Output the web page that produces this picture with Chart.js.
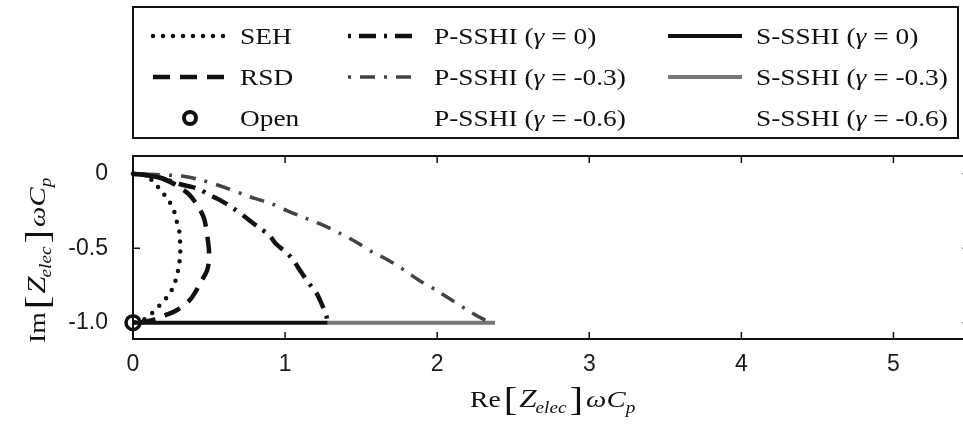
<!DOCTYPE html>
<html lang="en">
<head>
<meta charset="UTF-8">
<title>Im vs Re of Z_elec</title>
<script src="https://cdn.jsdelivr.net/npm/chart.js"></script>
<style>
  html, body { margin: 0; padding: 0; overflow: hidden; background: #fff; }
  #wrap { width: 980px; height: 435px; }
</style>
</head>
<body>
<div id="wrap"><canvas id="impChart"></canvas></div>
<script>
// [Re, Im] pairs (normalised by w*Cp)
const sehPts = [[0, 0], [0.05, -0.003], [0.09, -0.012], [0.14, -0.06], [0.19, -0.12], [0.235, -0.18], [0.27, -0.25],
  [0.29, -0.33], [0.305, -0.39], [0.31, -0.47], [0.31, -0.55], [0.30, -0.63], [0.285, -0.70], [0.26, -0.77],
  [0.23, -0.82], [0.17, -0.89], [0.11, -0.95], [0.06, -0.985], [0, -1]];
const rsdPts = [[0, 0], [0.1, -0.01], [0.2, -0.035], [0.28, -0.075], [0.37, -0.14], [0.44, -0.24], [0.47, -0.31],
  [0.49, -0.43], [0.50, -0.53], [0.49, -0.64], [0.45, -0.72], [0.38, -0.84], [0.29, -0.915], [0.20, -0.955],
  [0.12, -0.985], [0.03, -1]];
const pSshi0Pts = [[0, 0], [0.15, -0.02], [0.28, -0.06], [0.33, -0.075], [0.43, -0.10], [0.50, -0.14], [0.56, -0.17],
  [0.65, -0.225], [0.75, -0.30], [0.84, -0.37], [0.895, -0.41], [0.94, -0.47], [1.02, -0.54], [1.06, -0.59],
  [1.105, -0.66], [1.16, -0.74], [1.20, -0.79], [1.23, -0.85], [1.27, -0.95], [1.28, -1.0]];
const pSshi03Pts = [[0, 0], [0.15, -0.005], [0.26, -0.01], [0.35, -0.02], [0.46, -0.045], [0.57, -0.08], [0.73, -0.14],
  [0.80, -0.165], [0.91, -0.20], [1.02, -0.25], [1.14, -0.30], [1.26, -0.35], [1.36, -0.40], [1.47, -0.46],
  [1.58, -0.53], [1.67, -0.575], [1.78, -0.645], [1.88, -0.715], [1.99, -0.78], [2.09, -0.845], [2.19, -0.91],
  [2.30, -0.975], [2.36, -1.0]];
const pSshi06Pts = [];
const sSshi0Pts = [[0, 0], [0.1, -0.008], [0.2, -0.03], [0.28, -0.07], [0.29, null], [0, -1], [1.28, -1]];
const sSshi03Pts = [[1.28, -1], [2.38, -1]];
const sSshi06Pts = [];
const openPts = [[0, -1]];

const xTicks = [0, 1, 2, 3, 4, 5];
const yTicks = [-1.0, -0.5, 0];
const yTickLabels = ['-1.0', '-0.5', '0'];

const seriesNames = ['Open', 'SEH', 'RSD', 'P-SSHI (γ = 0)', 'P-SSHI (γ = -0.3)', 'P-SSHI (γ = -0.6)',
  'S-SSHI (γ = 0)', 'S-SSHI (γ = -0.3)', 'S-SSHI (γ = -0.6)'];

const SERIF = '"Liberation Serif", "Times New Roman", serif';
const SANS = '"Liberation Sans", Arial, sans-serif';

function toXY(pts) {
  return pts.map(p => ({ x: p[0], y: p[1] }));
}

function lineSet(label, pts, color, width, dash, cap) {
  return {
    label: label, data: toXY(pts), borderColor: color, borderWidth: width,
    borderDash: dash, borderCapStyle: cap || 'butt', pointRadius: 0,
    tension: 0.3, fill: false, clip: false, spanGaps: false, order: 1
  };
}

const datasets = [
  { label: seriesNames[0], data: toXY(openPts), showLine: false, pointRadius: 7, pointBorderWidth: 3.5,
    pointBorderColor: '#111', pointBackgroundColor: 'rgba(0,0,0,0)', clip: false, order: 0 },
  lineSet(seriesNames[1], sehPts, '#111', 4.5, [0, 10], 'round'),
  lineSet(seriesNames[2], rsdPts, '#111', 4.5, [17, 10]),
  lineSet(seriesNames[3], pSshi0Pts, '#111', 4.5, [3, 8, 17, 8]),
  lineSet(seriesNames[4], pSshi03Pts, '#444', 3.5, [3, 9, 15, 9]),
  lineSet(seriesNames[5], pSshi06Pts, '#333', 3.5, [3, 9, 15, 9]),
  lineSet(seriesNames[6], sSshi0Pts, '#111', 4, []),
  lineSet(seriesNames[7], sSshi03Pts, '#777', 4, []),
  lineSet(seriesNames[8], sSshi06Pts, '#999', 4, [])
];

// legend slots: dataset index -> column/row, sample drawn only if sample is true
const legendSlots = [
  { ds: 1, col: 0, row: 0, sample: true }, { ds: 2, col: 0, row: 1, sample: true }, { ds: 0, col: 0, row: 2, sample: true },
  { ds: 3, col: 1, row: 0, sample: true }, { ds: 4, col: 1, row: 1, sample: true }, { ds: 5, col: 1, row: 2, sample: false },
  { ds: 6, col: 2, row: 0, sample: true }, { ds: 7, col: 2, row: 1, sample: true }, { ds: 8, col: 2, row: 2, sample: false }
];
const legendCols = [{ x0: 153, x1: 224, tx: 240 }, { x0: 348, x1: 414, tx: 434 }, { x0: 668, x1: 742, tx: 756 }];
const legendRows = [36, 77, 118];

// draw a list of text runs left to right, stretched horizontally by sx
function drawRuns(ctx, runs, x, y, sx) {
  let cx = x;
  runs.forEach(r => {
    ctx.font = r.font;
    ctx.save();
    ctx.translate(cx, y + (r.dy || 0));
    ctx.scale(sx, 1);
    ctx.fillText(r.t, 0, 0);
    ctx.restore();
    cx += ctx.measureText(r.t).width * sx + (r.gap || 0);
  });
}

function mathRuns(head) {
  return [
    { t: head, font: '23px ' + SERIF, gap: 3 },
    { t: '[', font: '34px ' + SERIF, dy: 3, gap: 2 },
    { t: 'Z', font: 'italic 26px ' + SERIF, gap: -1 },
    { t: 'elec', font: 'italic 16px ' + SERIF, dy: 6, gap: 3 },
    { t: ']', font: '34px ' + SERIF, dy: 3, gap: 3 },
    { t: 'ω', font: 'italic 24px ' + SERIF },
    { t: 'C', font: 'italic 24px ' + SERIF },
    { t: 'p', font: 'italic 16px ' + SERIF, dy: 6 }
  ];
}

const decorPlugin = {
  id: 'decor',
  beforeDatasetsDraw(chart) {
    const ctx = chart.ctx, a = chart.chartArea;
    const xs = chart.scales.x, ys = chart.scales.y;
    ctx.save();
    ctx.strokeStyle = '#111';
    ctx.lineWidth = 2;
    ctx.strokeRect(a.left, a.top, a.right - a.left, a.bottom - a.top);
    ctx.lineWidth = 1.5;
    ctx.beginPath();
    xTicks.forEach(v => {
      const px = xs.getPixelForValue(v);
      ctx.moveTo(px, a.bottom); ctx.lineTo(px, a.bottom - 7);
      ctx.moveTo(px, a.top); ctx.lineTo(px, a.top + 7);
    });
    yTicks.forEach(v => {
      const py = ys.getPixelForValue(v);
      ctx.moveTo(a.left, py); ctx.lineTo(a.left + 7, py);
      ctx.moveTo(a.right, py); ctx.lineTo(a.right - 7, py);
    });
    ctx.stroke();
    ctx.restore();
  },
  afterDraw(chart) {
    const ctx = chart.ctx;
    ctx.save();
    // legend box
    ctx.strokeStyle = '#111';
    ctx.lineWidth = 2;
    ctx.strokeRect(133, 7, 825, 131);
    legendSlots.forEach(s => {
      const ds = chart.data.datasets[s.ds];
      const c = legendCols[s.col], y = legendRows[s.row];
      if (s.sample) {
        if (ds.showLine === false) {
          ctx.beginPath();
          ctx.lineWidth = 4;
          ctx.strokeStyle = ds.pointBorderColor;
          ctx.arc(c.x0 + 37, y, 6, 0, Math.PI * 2);
          ctx.stroke();
        } else {
          ctx.beginPath();
          ctx.setLineDash(ds.borderDash);
          ctx.lineCap = ds.borderCapStyle;
          ctx.lineWidth = ds.borderWidth;
          ctx.strokeStyle = ds.borderColor;
          ctx.moveTo(c.x0, y);
          ctx.lineTo(c.x1, y);
          ctx.stroke();
          ctx.setLineDash([]);
          ctx.lineCap = 'butt';
        }
      }
      ctx.fillStyle = '#111';
      ctx.textBaseline = 'alphabetic';
      ctx.textAlign = 'left';
      const parts = ds.label.split('γ');
      const runs = [{ t: parts[0], font: '24px ' + SERIF }];
      if (parts.length > 1) {
        runs.push({ t: 'γ', font: 'italic 24px ' + SERIF });
        runs.push({ t: parts[1], font: '24px ' + SERIF });
      }
      drawRuns(ctx, runs, c.tx, y + 8, 1.14);
    });
    // axis titles
    drawRuns(ctx, mathRuns('Re'), 470, 407, 1.2);
    ctx.translate(45, 343);
    ctx.rotate(-Math.PI / 2);
    drawRuns(ctx, mathRuns('Im'), 0, 0, 1.2);
    ctx.restore();
  }
};

new Chart(document.getElementById('impChart'), {
  type: 'line',
  data: { datasets: datasets },
  plugins: [decorPlugin],
  options: {
    responsive: true,
    maintainAspectRatio: false,
    animation: false,
    layout: { padding: { top: 156, right: 8, left: 0, bottom: 0 } },
    plugins: { legend: { display: false }, tooltip: { enabled: false } },
    scales: {
      x: {
        type: 'linear', min: 0, max: 5.5,
        grid: { display: false, drawTicks: false },
        border: { display: false },
        afterBuildTicks: s => { s.ticks = xTicks.map(v => ({ value: v })); },
        afterFit: s => { s.height = 96; },
        ticks: { padding: 12, color: '#1a1a1a', font: { family: SANS, size: 23 }, maxRotation: 0,
          callback: v => String(v) }
      },
      y: {
        type: 'linear', min: -1.11, max: 0.12,
        grid: { display: false, drawTicks: false },
        border: { display: false },
        afterBuildTicks: s => { s.ticks = yTicks.map(v => ({ value: v })); },
        afterFit: s => { s.width = 133; },
        ticks: { padding: 25, color: '#1a1a1a', font: { family: SANS, size: 23 },
          callback: v => yTickLabels[yTicks.indexOf(v)] }
      }
    }
  }
});
</script>
</body>
</html>
